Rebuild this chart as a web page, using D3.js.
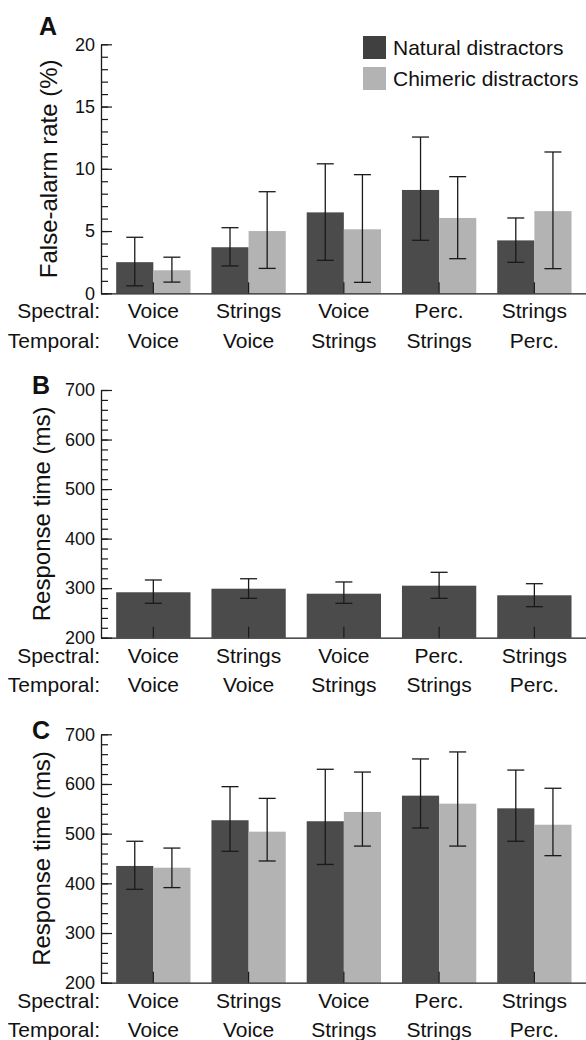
<!DOCTYPE html>
<html>
<head>
<meta charset="utf-8">
<script src="https://cdn.jsdelivr.net/npm/d3@7"></script>
<style>
  body { margin: 0; background: #fff; }
  svg text { font-family: "Liberation Sans", Arial, Helvetica, sans-serif; fill: #111; }
</style>
</head>
<body>
<div id="svg-container"></div>
<script>
////////////////////////////////////////////////////////////////////
////////////////////////////  Data  ////////////////////////////////
const spectral = ["Voice", "Strings", "Voice", "Perc.", "Strings"];
const temporal = ["Voice", "Voice", "Strings", "Strings", "Perc."];
const groups = d3.range(spectral.length);

// A: false-alarm rate (%)
const faNatural = [2.5, 3.7, 6.5, 8.3, 4.25];
const faNaturalHi = [4.5, 5.27, 10.4, 12.55, 6.05];
const faNaturalLo = [0.6, 2.2, 2.65, 4.26, 2.49];
const faChimeric = [1.85, 5.0, 5.14, 6.05, 6.6];
const faChimericHi = [2.9, 8.16, 9.53, 9.37, 11.35];
const faChimericLo = [0.9, 2.0, 0.88, 2.78, 1.98];

// B: response time, targets (ms)
const rtTarget = [291.7, 298.9, 288.8, 305, 285.6];
const rtTargetHi = [316.5, 319, 312.5, 332, 309];
const rtTargetLo = [269.4, 279.5, 269.4, 279.5, 262.6];

// C: response time, distractors (ms)
const rtNatural = [435, 527, 525, 576.5, 551];
const rtNaturalHi = [484.7, 594.6, 629.6, 650.4, 628];
const rtNaturalLo = [388, 464.5, 438, 511.4, 484.7];
const rtChimeric = [431.5, 504, 543.7, 560.4, 518];
const rtChimericHi = [471, 571, 624, 664.5, 591.4];
const rtChimericLo = [391.4, 445, 475, 475, 455.7];

const legendLabels = ["Natural distractors", "Chimeric distractors"];

//color
const darkColor = "#4b4b4b";
const lightColor = "#b3b3b3";

////////////////////////////////////////////////////////////////////
////////////////////////////  Init  ////////////////////////////////
const width = 586;
const height = 1040;
const svg = d3.select("#svg-container").append("svg")
  .attr("width", width).attr("height", height);

const axisX = 101;

const x = d3.scaleBand()
  .domain(groups)
  .range([105.7, 582])
  .paddingInner(0.22)
  .paddingOuter(0.11);

const toSeries = (vals, hi, lo) => vals.map((v, i) => ({ i, v, hi: hi[i], lo: lo[i] }));

const panels = [
  {
    letter: "A", letterY: 35, letterX: 39,
    label: "False-alarm rate (%)", labelX: 57,
    top: 44.3, bottom: 293.3, domain: [0, 20],
    major: d3.range(0, 21, 5), minor: d3.range(0, 21, 1),
    series: [
      { key: "natural", color: darkColor, data: toSeries(faNatural, faNaturalHi, faNaturalLo) },
      { key: "chimeric", color: lightColor, data: toSeries(faChimeric, faChimericHi, faChimericLo) },
    ],
  },
  {
    letter: "B", letterY: 394, letterX: 32,
    label: "Response time (ms)", labelX: 50,
    top: 390, bottom: 637.7, domain: [200, 700],
    major: d3.range(200, 701, 100), minor: d3.range(200, 701, 20),
    series: [
      { key: "target", color: darkColor, data: toSeries(rtTarget, rtTargetHi, rtTargetLo) },
    ],
  },
  {
    letter: "C", letterY: 739, letterX: 32,
    label: "Response time (ms)", labelX: 50,
    top: 734.3, bottom: 982.7, domain: [200, 700],
    major: d3.range(200, 701, 100), minor: d3.range(200, 701, 20),
    series: [
      { key: "natural", color: darkColor, data: toSeries(rtNatural, rtNaturalHi, rtNaturalLo) },
      { key: "chimeric", color: lightColor, data: toSeries(rtChimeric, rtChimericHi, rtChimericLo) },
    ],
  },
];

////////////////////////////////////////////////////////////////////
////////////////////////////  Draw  ////////////////////////////////
panels.forEach((p) => {
  const g = svg.append("g");
  const y = d3.scaleLinear().domain(p.domain).range([p.bottom, p.top]);

  const sub = d3.scaleBand()
    .domain(p.series.map((s) => s.key))
    .range([0, x.bandwidth()]);

  // bars
  p.series.forEach((s) => {
    g.selectAll(null)
      .data(s.data)
      .enter()
      .append("rect")
      .attr("x", (d) => x(d.i) + sub(s.key))
      .attr("y", (d) => y(d.v))
      .attr("width", sub.bandwidth())
      .attr("height", (d) => y(p.domain[0]) - y(d.v))
      .attr("fill", s.color);
  });

  // error bars
  p.series.forEach((s) => {
    const cx = (d) => x(d.i) + sub(s.key) + sub.bandwidth() / 2;
    const eb = g.selectAll(null).data(s.data).enter().append("g")
      .attr("stroke", "#1a1a1a").attr("stroke-width", 1.3);
    eb.append("line")
      .attr("x1", cx).attr("x2", cx)
      .attr("y1", (d) => y(d.lo)).attr("y2", (d) => y(d.hi));
    eb.append("line")
      .attr("x1", (d) => cx(d) - 8.5).attr("x2", (d) => cx(d) + 8.5)
      .attr("y1", (d) => y(d.hi)).attr("y2", (d) => y(d.hi));
    eb.append("line")
      .attr("x1", (d) => cx(d) - 8.5).attr("x2", (d) => cx(d) + 8.5)
      .attr("y1", (d) => y(d.lo)).attr("y2", (d) => y(d.lo));
  });

  // y axis: minor ticks
  g.append("g")
    .attr("transform", `translate(${axisX},0)`)
    .call(d3.axisLeft(y).tickValues(p.minor).tickSizeInner(-7).tickSizeOuter(0).tickFormat(""))
    .call((a) => a.select(".domain").remove())
    .selectAll("line").attr("stroke", "#1a1a1a").attr("stroke-width", 1.2);

  // y axis: major ticks + labels
  const yAxis = g.append("g")
    .attr("transform", `translate(${axisX},0)`)
    .call(d3.axisLeft(y).tickValues(p.major).tickSizeInner(-11).tickSizeOuter(0).tickPadding(6));
  yAxis.select(".domain").attr("stroke", "#1a1a1a").attr("stroke-width", 1.3);
  yAxis.selectAll("line").attr("stroke", "#1a1a1a").attr("stroke-width", 1.2);
  yAxis.selectAll("text").attr("font-size", 18).attr("fill", "#111")
    .attr("font-family", "Liberation Sans, Arial, sans-serif");

  // x axis line + center ticks
  const xAxis = g.append("g")
    .attr("transform", `translate(0,${p.bottom})`)
    .call(d3.axisBottom(x).tickSizeInner(-11).tickSizeOuter(0).tickFormat(""));
  xAxis.select(".domain").attr("d", `M${axisX},0.5H${width}`)
    .attr("stroke", "#1a1a1a").attr("stroke-width", 1.3);
  xAxis.selectAll("line").attr("stroke", "#1a1a1a").attr("stroke-width", 1.2);

  // category labels
  const rows = [
    { name: "Spectral:", vals: spectral, dy: 25 },
    { name: "Temporal:", vals: temporal, dy: 54.5 },
  ];
  rows.forEach((r) => {
    g.append("text")
      .attr("x", axisX - 1)
      .attr("y", p.bottom + r.dy)
      .attr("text-anchor", "end")
      .attr("font-size", 21)
      .text(r.name);
    g.selectAll(null)
      .data(r.vals)
      .enter()
      .append("text")
      .attr("x", (d, i) => x(i) + x.bandwidth() / 2)
      .attr("y", p.bottom + r.dy)
      .attr("text-anchor", "middle")
      .attr("font-size", 21)
      .text((d) => d);
  });

  // y label
  g.append("text")
    .attr("transform", `translate(${p.labelX},${(p.top + p.bottom) / 2}) rotate(-90)`)
    .attr("text-anchor", "middle")
    .attr("font-size", 24)
    .text(p.label);

  // panel letter
  g.append("text")
    .attr("x", p.letterX)
    .attr("y", p.letterY)
    .attr("font-size", 25)
    .attr("font-weight", "bold")
    .text(p.letter);
});

// legend
const legend = svg.append("g").attr("transform", "translate(363,36)");
const legendItems = legend.selectAll(null)
  .data(legendLabels)
  .enter()
  .append("g")
  .attr("transform", (d, i) => `translate(0,${i * 31})`);
legendItems.append("rect")
  .attr("width", 23).attr("height", 23)
  .attr("fill", (d, i) => (i === 0 ? "#404040" : lightColor));
legendItems.append("text")
  .attr("x", 30).attr("y", 18.5)
  .attr("font-size", 21)
  .text((d) => d);
</script>
</body>
</html>
